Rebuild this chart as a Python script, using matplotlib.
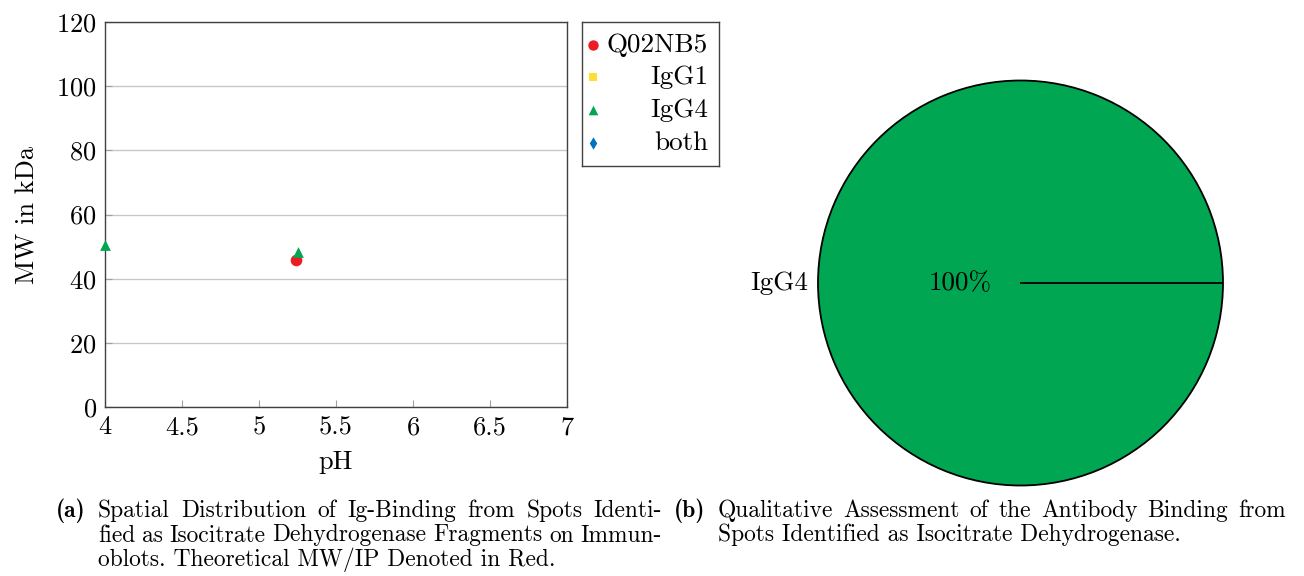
import matplotlib
matplotlib.use("Agg")
import matplotlib.pyplot as plt

plt.rcParams["font.family"] = "serif"
plt.rcParams["font.serif"] = ["cmr10", "DejaVu Serif"]
plt.rcParams["mathtext.fontset"] = "cm"
plt.rcParams["axes.formatter.use_mathtext"] = True

# Scatter data: pH vs molecular weight
theo_ph = [5.24]
theo_mw = [45.7]
igg1_ph = []
igg1_mw = []
igg4_ph = [4.0, 5.25]
igg4_mw = [50.4, 48.3]
both_ph = []
both_mw = []

x_ticks = [4, 4.5, 5, 5.5, 6, 6.5, 7]
y_ticks = [0, 20, 40, 60, 80, 100, 120]

# Pie data
pie_labels = ["IgG4"]
pie_values = [100]

RED = "#ED1C24"
YELLOW = "#FFDD33"
GREEN = "#00A651"
BLUE = "#0071BC"

series = [
    ("Q02NB5", theo_ph, theo_mw, dict(marker="o", color=RED, s=70)),
    ("IgG1", igg1_ph, igg1_mw, dict(marker="s", color=YELLOW, s=50)),
    ("IgG4", igg4_ph, igg4_mw, dict(marker="^", color=GREEN, s=60)),
    ("both", both_ph, both_mw, dict(marker="d", color=BLUE, s=50)),
]

W, H = 1304, 576
fig = plt.figure(figsize=(W / 100, H / 100), dpi=100)

def fbox(x0, y0, x1, y1):
    return [x0 / W, 1 - y1 / H, (x1 - x0) / W, (y1 - y0) / H]

# ---- scatter panel ----
ax = fig.add_axes(fbox(105, 22, 567, 407))
for name, xs, ys, st in series:
    ax.scatter(xs, ys, linewidths=0, zorder=3, clip_on=False, **st)
ax.set_xlim(4, 7)
ax.set_ylim(0, 120)
ax.set_xticks(x_ticks)
ax.set_xticklabels([f"{t:g}" for t in x_ticks])
ax.set_yticks(y_ticks)
ax.grid(axis="y", color="#c8c8c8", linewidth=1.0)
ax.set_axisbelow(True)
ax.tick_params(direction="in", length=5, width=0.8, color="#a0a0a0",
               labelsize=19, pad=6)
for sp in ax.spines.values():
    sp.set_color("#404040")
    sp.set_linewidth(1.0)
ax.set_xlabel("pH", fontsize=19, labelpad=8)
ax.set_ylabel("MW in kDa", fontsize=19, labelpad=12)

# ---- legend box ----
lg = fig.add_axes(fbox(582, 22, 719, 166))
lg.set_xlim(0, 137)
lg.set_ylim(144, 0)
lg.set_xticks([])
lg.set_yticks([])
for sp in lg.spines.values():
    sp.set_color("#404040")
    sp.set_linewidth(1.0)
rows_y = [23, 55, 88, 121]
for (name, xs, ys, st), yy in zip(series, rows_y):
    st2 = dict(st)
    st2["s"] = st["s"] * 0.8
    lg.scatter([11], [yy], linewidths=0, **st2)
    lg.text(126, yy, name, ha="right", va="center", fontsize=19.5)

# ---- pie panel ----
pa = fig.add_axes(fbox(818, 80.5, 1223, 485.5))
wedges, texts, autotexts = pa.pie(
    pie_values, labels=pie_labels, colors=[GREEN], startangle=0,
    autopct="%d%%", pctdistance=0.3, labeldistance=1.05,
    wedgeprops=dict(edgecolor="black", linewidth=1.3),
    textprops=dict(fontsize=19.5), radius=1.0,
)
pa.plot([0, 1], [0, 0], color="black", linewidth=1.3)
pa.set_xlim(-1.0, 1.0)
pa.set_ylim(-1.0, 1.0)
pa.set_aspect("equal")
pa.axis("off")

# ---- captions ----
renderer = fig.canvas.get_renderer()
CAP_FS = 16.9

def put_line(text, x0, x1, y, justify):
    words = text.split(" ")
    if not justify:
        fig.text(x0 / W, 1 - y / H, text, fontsize=CAP_FS, va="baseline", ha="left")
        return
    objs = [fig.text(0, 1 - y / H, w, fontsize=CAP_FS, va="baseline", ha="left")
            for w in words]
    widths = [o.get_window_extent(renderer).width for o in objs]
    gap = (x1 - x0 - sum(widths)) / (len(words) - 1)
    x = x0
    for o, wd in zip(objs, widths):
        o.set_x(x / W)
        x += wd + gap

fig.text(56 / W, 1 - 517 / H, "(a)", fontsize=CAP_FS, family="cmb10", va="baseline")
cap_a = [
    "Spatial Distribution of Ig-Binding from Spots Identi-",
    "fied as Isocitrate Dehydrogenase Fragments on Immun-",
    "oblots. Theoretical MW/IP Denoted in Red.",
]
for i, line in enumerate(cap_a):
    put_line(line, 98, 662, 517 + 24.5 * i, i < len(cap_a) - 1)

fig.text(674 / W, 1 - 517 / H, "(b)", fontsize=CAP_FS, family="cmb10", va="baseline")
cap_b = [
    "Qualitative Assessment of the Antibody Binding from",
    "Spots Identified as Isocitrate Dehydrogenase.",
]
for i, line in enumerate(cap_b):
    put_line(line, 718, 1286, 517 + 24.5 * i, i < len(cap_b) - 1)

fig.savefig("out.png", dpi=100)
